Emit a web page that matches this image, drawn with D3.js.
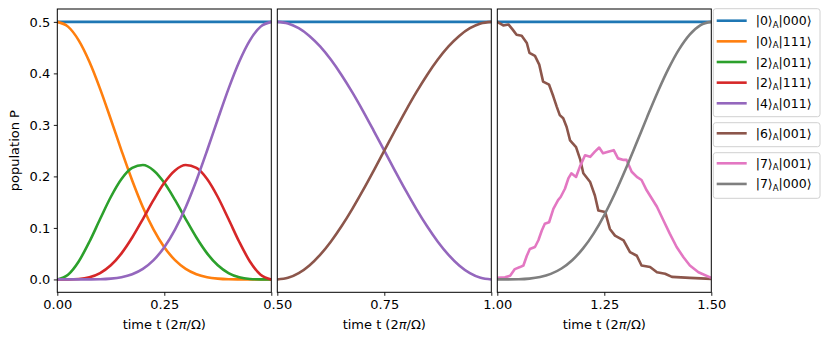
<!DOCTYPE html>
<html><head><meta charset="utf-8">
<script src="https://cdn.jsdelivr.net/npm/d3@7"></script>
<style>
body{margin:0;background:#fff}
svg{display:block}
text{font-family:"DejaVu Sans",sans-serif;fill:#000}
</style>
</head><body>
<svg id="chart" width="830" height="342"></svg>
<script>
// ---------- data ----------
const t1 = [0,0.025,0.05,0.075,0.1,0.125,0.15,0.175,0.2,0.225,0.25,0.275,0.3,0.325,0.35,0.375,0.4,0.425,0.45,0.475,0.5];
const t2 = [0.5,0.525,0.55,0.575,0.6,0.625,0.65,0.675,0.7,0.725,0.75,0.775,0.8,0.825,0.85,0.875,0.9,0.925,0.95,0.975,1.0];
const t3 = [1.0,1.025,1.05,1.075,1.1,1.125,1.15,1.175,1.2,1.225,1.25,1.275,1.3,1.325,1.35,1.375,1.4,1.425,1.45,1.475,1.5];

const blue0_000 = [0.5,0.5];
const blueT = [0,1.5];
// panel 1
const orange0_111 = [0.5,0.4908,0.4642,0.4226,0.3700,0.3109,0.2502,0.1921,0.1402,0.0967,0.0625,0.0375,0.0206,0.0102,0.0044,0.0016,0.0004,0.0001,0,0,0];
const green2_011 = [0,0.0091,0.0349,0.0731,0.1172,0.1600,0.1949,0.2164,0.2220,0.2115,0.1875,0.1543,0.1172,0.0813,0.0506,0.0275,0.0124,0.0042,0.0009,0.0001,0];
const red2_111 = [0,0.0001,0.0009,0.0042,0.0124,0.0275,0.0506,0.0813,0.1172,0.1543,0.1875,0.2115,0.2220,0.2164,0.1949,0.1600,0.1172,0.0731,0.0349,0.0091,0];
const purple4_011_p1 = [0,0,0,0.0001,0.0004,0.0016,0.0044,0.0102,0.0206,0.0375,0.0625,0.0967,0.1402,0.1921,0.2502,0.3109,0.3700,0.4226,0.4642,0.4908,0.5];
// panel 2
const purple4_011_p2 = [0.5,0.4969,0.4878,0.4728,0.4523,0.4268,0.3969,0.3635,0.3273,0.2891,0.25,0.2109,0.1727,0.1365,0.1031,0.0732,0.0477,0.0272,0.0122,0.0031,0];
const brown6_001_p2 = [0,0.0031,0.0122,0.0272,0.0477,0.0732,0.1031,0.1365,0.1727,0.2109,0.25,0.2891,0.3273,0.3635,0.3969,0.4268,0.4523,0.4728,0.4878,0.4969,0.5];
// panel 3
const gray7_000 = [0,0.00002,0.0003,0.0015,0.0046,0.0107,0.0212,0.0373,0.0597,0.0889,0.125,0.1672,0.2142,0.2643,0.3151,0.3643,0.4091,0.4470,0.4758,0.4939,0.5];
const brownT3 = [1.0,1.014,1.026,1.036,1.045,1.057,1.069,1.075,1.088,1.098,1.107,1.121,1.131,1.139,1.146,1.154,1.162,1.17,1.184,1.194,1.201,1.217,1.228,1.236,1.252,1.263,1.275,1.295,1.31,1.326,1.337,1.357,1.373,1.392,1.408,1.45,1.5];
const brown6_001_p3 = [0.5,0.493,0.495,0.485,0.475,0.473,0.459,0.44,0.434,0.417,0.384,0.378,0.355,0.335,0.319,0.313,0.296,0.27,0.257,0.232,0.206,0.189,0.163,0.134,0.131,0.098,0.085,0.076,0.053,0.046,0.027,0.024,0.014,0.011,0.005,0.003,0.001];
const pinkT3 = [1.0,1.018,1.03,1.041,1.053,1.061,1.069,1.076,1.088,1.096,1.104,1.111,1.121,1.131,1.142,1.148,1.158,1.166,1.173,1.184,1.193,1.205,1.217,1.228,1.238,1.247,1.259,1.272,1.282,1.295,1.302,1.314,1.326,1.337,1.349,1.361,1.373,1.388,1.403,1.419,1.435,1.45,1.47,1.5];
const pink7_001 = [0.003,0.004,0.007,0.02,0.024,0.027,0.046,0.059,0.063,0.076,0.095,0.108,0.111,0.137,0.154,0.16,0.176,0.196,0.206,0.199,0.219,0.241,0.238,0.248,0.256,0.245,0.248,0.251,0.235,0.232,0.232,0.209,0.199,0.193,0.173,0.157,0.141,0.115,0.089,0.063,0.043,0.027,0.014,0.003];

const yTicks = [0.0,0.1,0.2,0.3,0.4,0.5];
const xTicks = [[0,0.25,0.5],[0.5,0.75,1.0],[1.0,1.25,1.5]];
const xTickLabels = [["0.00","0.25",""],["0.50","0.75",""],["1.00","1.25","1.50"]];
const xDomains = [[0,0.5],[0.5,1.0],[1.0,1.5]];

const colors = {blue:"#1f77b4",orange:"#ff7f0e",green:"#2ca02c",red:"#d62728",purple:"#9467bd",brown:"#8c564b",pink:"#e377c2",gray:"#7f7f7f"};

const legendGroups = [
  [["blue","0","000"],["orange","0","111"],["green","2","011"],["red","2","111"],["purple","4","011"]],
  [["brown","6","001"]],
  [["pink","7","001"],["gray","7","000"]]
];

// ---------- layout ----------
const FS = "13px";
const svg = d3.select("#chart");
const yTop = 9, yBottom = 292.3;
const panelLeft = [57.3, 277.3, 497.3];
const pw = 214;
const y = d3.scaleLinear().domain([-0.025,0.525]).range([yBottom, yTop]);

const panels = [
  [ {t:blueT, v:blue0_000, c:"blue", curve:d3.curveLinear},
    {t:t1, v:orange0_111, c:"orange"},
    {t:t1, v:green2_011, c:"green"},
    {t:t1, v:red2_111, c:"red"},
    {t:t1, v:purple4_011_p1, c:"purple"} ],
  [ {t:blueT, v:blue0_000, c:"blue", curve:d3.curveLinear},
    {t:t2, v:purple4_011_p2, c:"purple"},
    {t:t2, v:brown6_001_p2, c:"brown"} ],
  [ {t:blueT, v:blue0_000, c:"blue", curve:d3.curveLinear},
    {t:brownT3, v:brown6_001_p3, c:"brown", curve:d3.curveLinear},
    {t:pinkT3, v:pink7_001, c:"pink", curve:d3.curveLinear},
    {t:t3, v:gray7_000, c:"gray"} ]
];

const defs = svg.append("defs");
panels.forEach((series, i) => {
  const x = d3.scaleLinear().domain(xDomains[i]).range([panelLeft[i], panelLeft[i]+pw]);
  defs.append("clipPath").attr("id","clip"+i).append("rect")
    .attr("x",panelLeft[i]).attr("y",yTop).attr("width",pw).attr("height",yBottom-yTop);
  const g = svg.append("g");
  const lg = g.append("g").attr("clip-path","url(#clip"+i+")");
  series.forEach(s => {
    const pts = s.t.map((t,k)=>[t,s.v[k]]);
    const line = d3.line().x(d=>x(d[0])).y(d=>y(d[1])).curve(s.curve || d3.curveMonotoneX);
    lg.append("path").attr("d",line(pts)).attr("fill","none")
      .attr("stroke",colors[s.c]).attr("stroke-width",2.6)
      .attr("stroke-linejoin","round").attr("stroke-linecap","butt");
  });
  g.append("rect").attr("x",panelLeft[i]).attr("y",yTop).attr("width",pw).attr("height",yBottom-yTop)
    .attr("fill","none").attr("stroke","#000").attr("stroke-width",1);
  const xa = d3.axisBottom(x).tickValues(xTicks[i])
    .tickFormat((d,k)=>xTickLabels[i][k]).tickSizeOuter(0).tickSize(3.5).tickPadding(3.5);
  const xg = g.append("g").attr("transform",`translate(0,${yBottom})`).call(xa);
  xg.select(".domain").remove();
  xg.selectAll("text").attr("font-size",FS).style("font-family","DejaVu Sans");
  xg.selectAll("line").attr("stroke","#000").attr("stroke-width",0.9);
  const xl = g.append("text").attr("x",panelLeft[i]+pw/2).attr("y",329).attr("text-anchor","middle")
    .attr("font-size",FS);
  xl.append("tspan").text("time t (2");
  xl.append("tspan").attr("font-style","italic").text("π");
  xl.append("tspan").text("/Ω)");
  if (i===0) {
    const ya = d3.axisLeft(y).tickValues(yTicks).tickFormat(d3.format(".1f")).tickSizeOuter(0).tickSize(3.5).tickPadding(3.5);
    const yg = g.append("g").attr("transform",`translate(${panelLeft[0]},0)`).call(ya);
    yg.select(".domain").remove();
    yg.selectAll("text").attr("font-size",FS).style("font-family","DejaVu Sans");
    yg.selectAll("line").attr("stroke","#000").attr("stroke-width",0.9);
    g.append("text").attr("transform",`translate(19,${(yTop+yBottom)/2}) rotate(-90)`)
      .attr("text-anchor","middle").attr("font-size",FS).text("population P");
  }
});

// ---------- legends ----------
const boxes = [{y:8.7,h:108},{y:122.7,h:24},{y:152.7,h:45.6}];
const rowStart = [20.7,133.3,163.3];
const rowStep = 20.65;
legendGroups.forEach((grp, gi) => {
  const lg = svg.append("g");
  lg.append("rect").attr("x",713.3).attr("y",boxes[gi].y).attr("width",106.7).attr("height",boxes[gi].h)
    .attr("rx",2.5).attr("fill","#fff").attr("fill-opacity",0.8).attr("stroke","#d0d0d0").attr("stroke-width",1);
  grp.forEach((e, k) => {
    const yy = rowStart[gi] + k*rowStep;
    lg.append("line").attr("x1",716.7).attr("x2",746.7).attr("y1",yy).attr("y2",yy)
      .attr("stroke",colors[e[0]]).attr("stroke-width",2.6);
    const t = lg.append("text").attr("x",755.7).attr("y",yy+4.5).attr("font-size","12.5px");
    t.append("tspan").text("|"+e[1]+"⟩");
    t.append("tspan").attr("font-size","8.5px").attr("dy",2.5).text("A");
    t.append("tspan").attr("dy",-2.5).text("|"+e[2]+"⟩");
  });
});
</script>
</body></html>
